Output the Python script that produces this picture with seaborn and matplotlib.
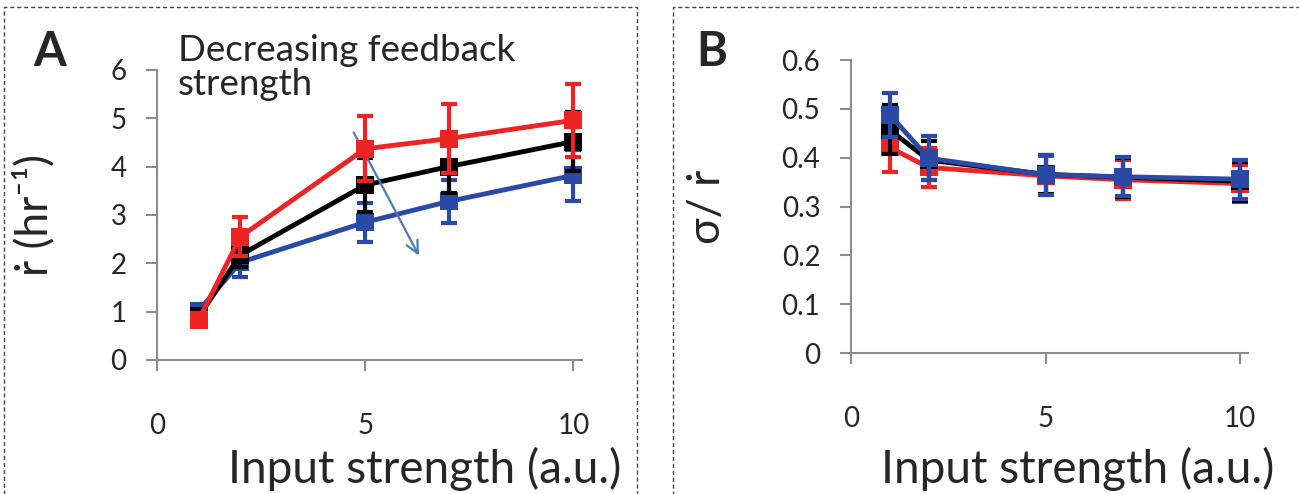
import numpy as np
import pandas as pd
import matplotlib.pyplot as plt
import seaborn as sns
from matplotlib.patches import Rectangle

# data
input_strength = [1, 2, 5, 7, 10]
series_names = ['low', 'mid', 'high']  # blue, black, red
colors = {'low': '#2b49a6', 'mid': '#000000', 'high': '#ee2424'}

rate_high = [0.83, 2.55, 4.37, 4.58, 4.96]
rate_mid = [0.90, 2.17, 3.62, 4.00, 4.52]
rate_low = [1.02, 2.02, 2.85, 3.28, 3.82]
rate_err_high = [0.10, 0.40, 0.67, 0.72, 0.75]
rate_err_mid = [0.10, 0.25, 0.55, 0.55, 0.62]
rate_err_low = [0.08, 0.30, 0.40, 0.45, 0.53]

cv_high = [0.421, 0.380, 0.363, 0.355, 0.347]
cv_mid = [0.457, 0.395, 0.366, 0.360, 0.352]
cv_low = [0.488, 0.399, 0.365, 0.361, 0.356]
cv_err_high = [0.050, 0.040, 0.040, 0.040, 0.038]
cv_err_mid = [0.050, 0.040, 0.040, 0.040, 0.040]
cv_err_low = [0.045, 0.045, 0.041, 0.040, 0.040]

rate = {'high': (rate_high, rate_err_high), 'mid': (rate_mid, rate_err_mid), 'low': (rate_low, rate_err_low)}
cv = {'high': (cv_high, cv_err_high), 'mid': (cv_mid, cv_err_mid), 'low': (cv_low, cv_err_low)}

sns.set_style('white')
plt.rcParams['font.family'] = ['Lato', 'DejaVu Sans']

fig = plt.figure(figsize=(12.99, 4.94), dpi=100)
axA = fig.add_axes([0.1209, 0.2713, 0.327, 0.587])
axB = fig.add_axes([0.655, 0.2854, 0.3057, 0.593])

# dashed panel boxes
for x0, w in [(0.003, 0.487), (0.518, 0.49)]:
    fig.patches.append(Rectangle((x0, -0.05), w, 1.036, transform=fig.transFigure,
                                 fill=False, ls=(0, (3, 2)), lw=1.0, ec='#444444'))


def draw(ax, table, order, ylim, yticks, yfmt):
    for z, name in enumerate(order):
        vals, errs = table[name]
        df = pd.DataFrame({'x': input_strength, 'y': vals})
        ax.errorbar(input_strength, vals, yerr=errs, fmt='none', ecolor=colors[name],
                    elinewidth=3, capsize=6, capthick=3, zorder=2 + z)
        sns.lineplot(data=df, x='x', y='y', ax=ax, color=colors[name], lw=3.5,
                     marker='s', markersize=13, markeredgewidth=0, zorder=2 + z)
    ax.set_xlim(0, 10.2)
    ax.set_ylim(*ylim)
    ax.set_xticks([0, 5, 10])
    ax.set_yticks(yticks)
    ax.set_yticklabels([yfmt(v) for v in yticks])
    for s in ['top', 'right']:
        ax.spines[s].set_visible(False)
    for s in ['left', 'bottom']:
        ax.spines[s].set_color('#8c8c8c')
        ax.spines[s].set_linewidth(1.5)
    ax.tick_params(axis='y', direction='out', length=8, width=1.5, color='#8c8c8c',
                   labelsize=20, pad=14, left=True)
    ax.tick_params(axis='x', direction='out', length=8, width=1.5, color='#8c8c8c',
                   labelsize=20, pad=30, bottom=True)
    ax.set_xlabel('Input strength (a.u.)', fontsize=33)


draw(axA, rate, ['low', 'mid', 'high'], (0, 6), [0, 1, 2, 3, 4, 5, 6], lambda v: f'{v:g}')
draw(axB, cv, ['high', 'mid', 'low'], (0, 0.6), [0, 0.1, 0.2, 0.3, 0.4, 0.5, 0.6], lambda v: f'{v:g}')

axA.xaxis.set_label_coords(0.63, -0.30)
axB.xaxis.set_label_coords(0.57, -0.32)
axA.set_ylabel('ṙ (hr⁻¹)', fontsize=32)
axA.yaxis.set_label_coords(-0.24, 0.5)
axB.set_ylabel('σ/ ṙ', fontsize=32)
axB.yaxis.set_label_coords(-0.31, 0.5)

axA.text(0.5, 6.74, 'Decreasing feedback\nstrength', fontsize=26.5, va='top', ha='left',
         linespacing=1.02, clip_on=False)
axA.annotate('', xy=(6.32, 2.11), xytext=(4.69, 4.76),
             arrowprops=dict(arrowstyle='->', color='#4a7ab8', lw=1.6, mutation_scale=22))

fig.text(0.038, 0.895, 'A', fontsize=34, fontweight='bold', ha='center', va='center')
fig.text(0.548, 0.895, 'B', fontsize=34, fontweight='bold', ha='center', va='center')

fig.savefig('out.png', dpi=100)
